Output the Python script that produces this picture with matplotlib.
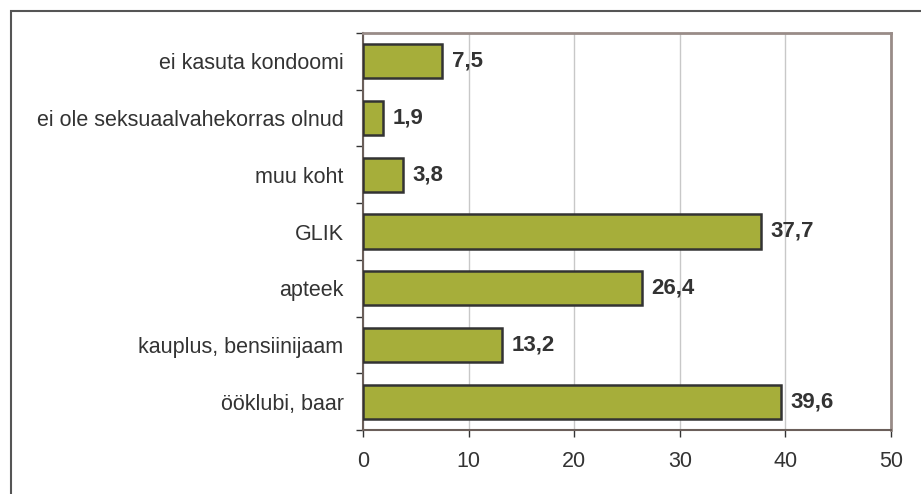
import matplotlib.pyplot as plt
from matplotlib.patches import Rectangle

categories = ["ööklubi, baar", "kauplus, bensiinijaam", "apteek", "GLIK",
              "muu koht", "ei ole seksuaalvahekorras olnud", "ei kasuta kondoomi"]
values = [39.6, 13.2, 26.4, 37.7, 3.8, 1.9, 7.5]
xticks = [0, 10, 20, 30, 40, 50]

plt.rcParams['font.family'] = ['Liberation Sans', 'DejaVu Sans']
FS = 15.5

fig = plt.figure(figsize=(9.21, 4.94), dpi=100)
ax = fig.add_axes([363 / 921, 1 - 430 / 494, (891 - 363) / 921, (430 - 33) / 494])

# outer frame of the chart area
fig.patches.append(Rectangle((11 / 921, -0.1), 1.2, 1 - 11 / 494 + 0.1, transform=fig.transFigure,
                             fill=False, edgecolor='#555555', linewidth=1.5))

ypos = list(range(len(categories)))
ax.barh(ypos, values, height=0.6, color='#a6ae3a', edgecolor='#333333', linewidth=1.8, zorder=3)
for y, v in zip(ypos, values):
    ax.text(v + 0.9, y, f"{v:.1f}".replace('.', ','), va='center', ha='left',
            fontsize=16, fontweight='bold', color='#333333')

ax.set_xlim(0, 50)
ax.set_ylim(-0.5, len(categories) - 0.5)
ax.set_xticks(xticks)
ax.set_xticklabels([str(t) for t in xticks], fontsize=FS, color='#333333')
ax.set_yticks(ypos)
ax.set_yticklabels(categories, fontsize=FS, color='#333333')
ax.set_yticks([y - 0.5 for y in range(len(categories) + 1)], minor=True)
ax.tick_params(axis='y', which='major', length=0, pad=14)
ax.tick_params(axis='y', which='minor', length=5, width=1, color='#333333', direction='out')
ax.tick_params(axis='x', length=5, width=1, color='#333333', direction='out', pad=10)
ax.xaxis.grid(True, color='#c8c8c8', linewidth=1, zorder=0)
ax.set_axisbelow(True)

for side in ['top', 'right']:
    ax.spines[side].set_color('#998c88')
    ax.spines[side].set_linewidth(2)
ax.spines['left'].set_color('#6b5f5a')
ax.spines['bottom'].set_color('#6b5f5a')
ax.spines['left'].set_linewidth(1.5)
ax.spines['bottom'].set_linewidth(1.5)

fig.savefig('out.png', dpi=100)
